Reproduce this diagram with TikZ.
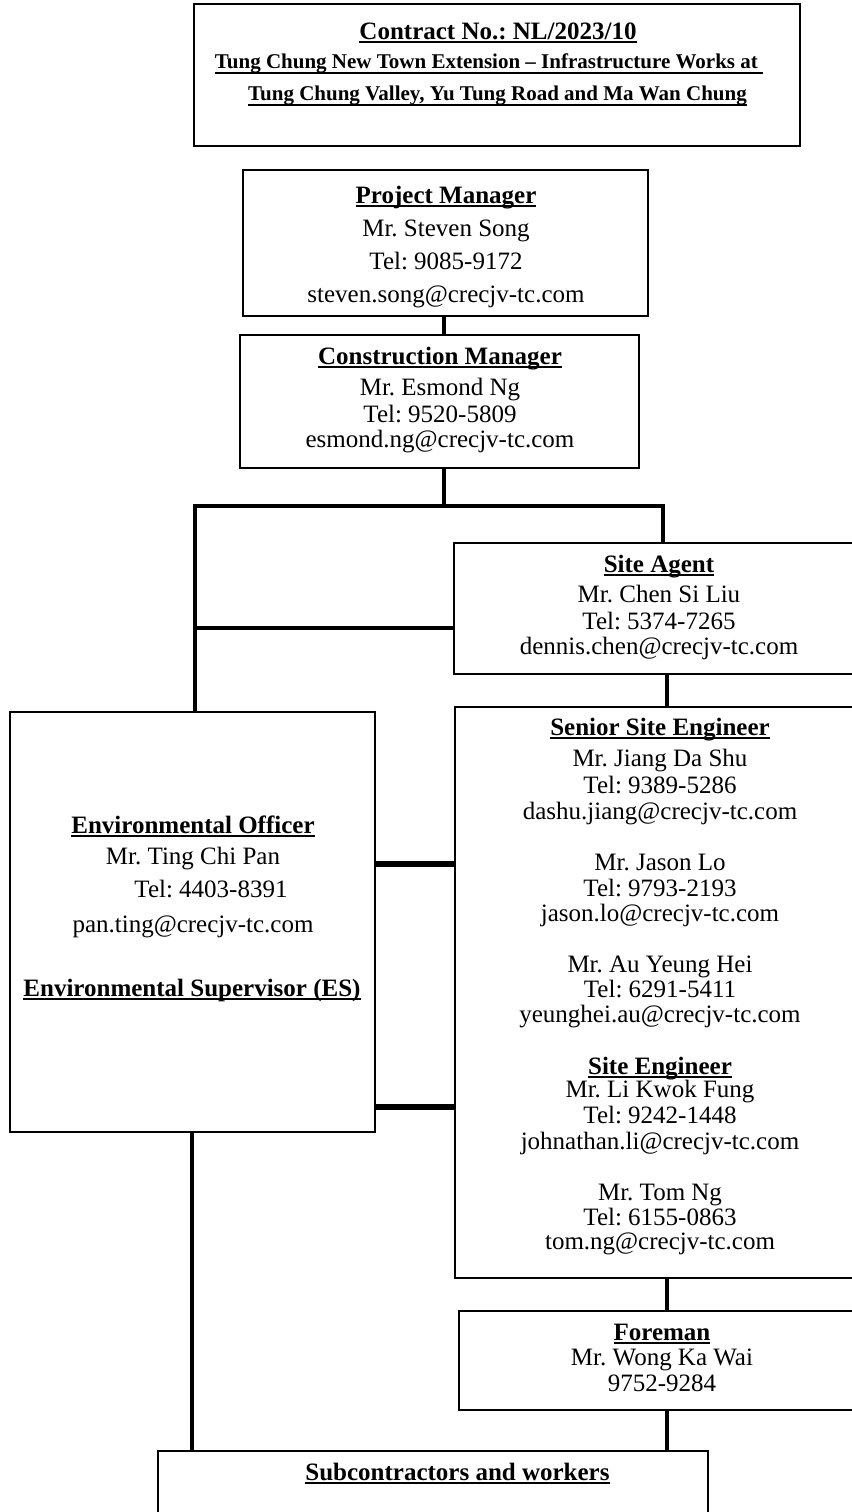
\documentclass[tikz,border=0pt]{standalone}
\usepackage{fontspec}
\setmainfont{Liberation Serif}
\usetikzlibrary{fit}
\frenchspacing
\newcommand\fsn{\fontsize{12.5}{15}\selectfont\frenchspacing}
\newcommand\fss{\fontsize{10.5}{12.5}\selectfont\frenchspacing}
\newcommand\ulx[1]{\setbox0=\hbox{#1}\rlap{\vrule height -1.1pt depth 1.9pt width \wd0}\box0}
\newcommand\ulb[1]{\setbox0=\hbox{#1}\rlap{\vrule height -2.2pt depth 3.0pt width \wd0}\box0}
\tikzset{
  box/.style={draw=black, line width=0.9pt, inner sep=0pt, fill=none},
  tl/.style={anchor=base, inner sep=0pt, font=\fsn},
  ts/.style={anchor=base, inner sep=0pt, font=\fss},
  wa/.style={line width=1.6pt},
  wb/.style={line width=2.0pt},
  wc/.style={line width=2.4pt},
  wd/.style={line width=3.0pt},
}
\begin{document}
\begin{tikzpicture}[x=0.5pt,y=-0.5pt]
\useasboundingbox (0,0) rectangle (852,1512);
\clip (0,0) rectangle (852,1512);
\fill[white] (0,0) rectangle (852,1512);
% boxes
\node[box, fit={(194,4) (800,146)}] (title) {};
\node[box, fit={(243,170) (648,316)}] (pm) {};
\node[box, fit={(240,335) (639,468)}] (cm) {};
\node[box, fit={(454,543) (880,674)}] (sa) {};
\node[box, fit={(455,707) (880,1278)}] (sse) {};
\node[box, fit={(10,712) (375,1132)}] (eo) {};
\node[box, fit={(459,1311) (880,1410)}] (fm) {};
\node[box, fit={(158,1451) (708,1560)}] (sub) {};
% junctions
\coordinate (jc) at (444,506);
\coordinate (jl) at (195,506);
\coordinate (jr) at (663,506);
\coordinate (ja) at (195,628);
\coordinate (js) at (667,700);
\coordinate (h1) at (380,864);
\coordinate (h2) at (380,1107);
\coordinate (jb) at (192,1300);
% connectors
\draw[wa] (pm.south -| jc) -- (cm.north -| jc);
\draw[wb] (cm.south -| jc) -- (jc);
\draw[line width=1.7pt, line join=miter] (eo.north -| jl) -- (jl) -- (jr) -- (sa.north -| jr);
\draw[wc] (ja) -- (sa.west |- ja);
\draw[wc] (sa.south -| js) -- (sse.north -| js);
\draw[wd] (eo.east |- h1) -- (sse.west |- h1);
\draw[wd] (eo.east |- h2) -- (sse.west |- h2);
\draw[line width=1.6pt] (eo.south -| jb) -- (sub.north -| jb);
\draw[wb] (sse.south -| js) -- (fm.north -| js);
\draw[wb] (fm.south -| js) -- (sub.north -| js);
% title
\node[tl] (t1) at (498,39) {\textbf{\ulx{Contract No.: NL/2023/10}}};
\node[ts] (t2) at (489,68) {\textbf{\ulb{Tung Chung New Town Extension – Infrastructure Works at\ }}};
\node[ts] (t3) at (497.5,100) {\textbf{\ulb{Tung Chung Valley, Yu Tung Road and Ma Wan Chung}}};
% project manager
\node[tl] (pm1) at (446,203) {\textbf{\ulx{Project Manager}}};
\node[tl] (pm2) at (446,236) {Mr. Steven Song};
\node[tl] (pm3) at (446,269) {Tel: 9085-9172};
\node[tl] (pm4) at (446,302) {steven.song@crecjv-tc.com};
% construction manager
\node[tl] (cm1) at (440,364) {\textbf{\ulx{Construction Manager}}};
\node[tl] (cm2) at (440,395) {Mr. Esmond Ng};
\node[tl] (cm3) at (440,422) {Tel: 9520-5809};
\node[tl] (cm4) at (440,447) {esmond.ng@crecjv-tc.com};
% site agent
\node[tl] (sa1) at (659,572) {\textbf{\ulx{Site Agent}}};
\node[tl] (sa2) at (659,602) {Mr. Chen Si Liu};
\node[tl] (sa3) at (659,629) {Tel: 5374-7265};
\node[tl] (sa4) at (659,654) {dennis.chen@crecjv-tc.com};
% environmental officer
\node[tl] (eo1) at (193,833) {\textbf{\ulx{Environmental Officer}}};
\node[tl] (eo2) at (193,864) {Mr. Ting Chi Pan};
\node[tl] (eo3) at (211,897) {Tel: 4403-8391};
\node[tl] (eo4) at (193,932) {pan.ting@crecjv-tc.com};
\node[tl] (eo5) at (192,996) {\textbf{\ulx{Environmental Supervisor (ES)}}};
% senior site engineer
\node[tl] (se1) at (660,735) {\textbf{\ulx{Senior Site Engineer}}};
\node[tl] (se2) at (660,766) {Mr. Jiang Da Shu};
\node[tl] (se3) at (660,793) {Tel: 9389-5286};
\node[tl] (se4) at (660,819) {dashu.jiang@crecjv-tc.com};
\node[tl] (se5) at (660,870) {Mr. Jason Lo};
\node[tl] (se6) at (660,896) {Tel: 9793-2193};
\node[tl] (se7) at (660,921) {jason.lo@crecjv-tc.com};
\node[tl] (se8) at (660,972) {Mr. Au Yeung Hei};
\node[tl] (se9) at (660,997) {Tel: 6291-5411};
\node[tl] (se10) at (660,1022) {yeunghei.au@crecjv-tc.com};
\node[tl] (se11) at (660,1074) {\textbf{\ulx{Site Engineer}}};
\node[tl] (se12) at (660,1097) {Mr. Li Kwok Fung};
\node[tl] (se13) at (660,1123) {Tel: 9242-1448};
\node[tl] (se14) at (660,1149) {johnathan.li@crecjv-tc.com};
\node[tl] (se15) at (660,1200) {Mr. Tom Ng};
\node[tl] (se16) at (660,1225) {Tel: 6155-0863};
\node[tl] (se17) at (660,1249) {tom.ng@crecjv-tc.com};
% foreman
\node[tl] (fm1) at (662,1340) {\textbf{\ulx{Foreman}}};
\node[tl] (fm2) at (662,1365) {Mr. Wong Ka Wai};
\node[tl] (fm3) at (662,1391) {9752-9284};
% subcontractors
\node[tl] (sb1) at (457.5,1480) {\textbf{\ulx{Subcontractors and workers}}};
\end{tikzpicture}
\end{document}
